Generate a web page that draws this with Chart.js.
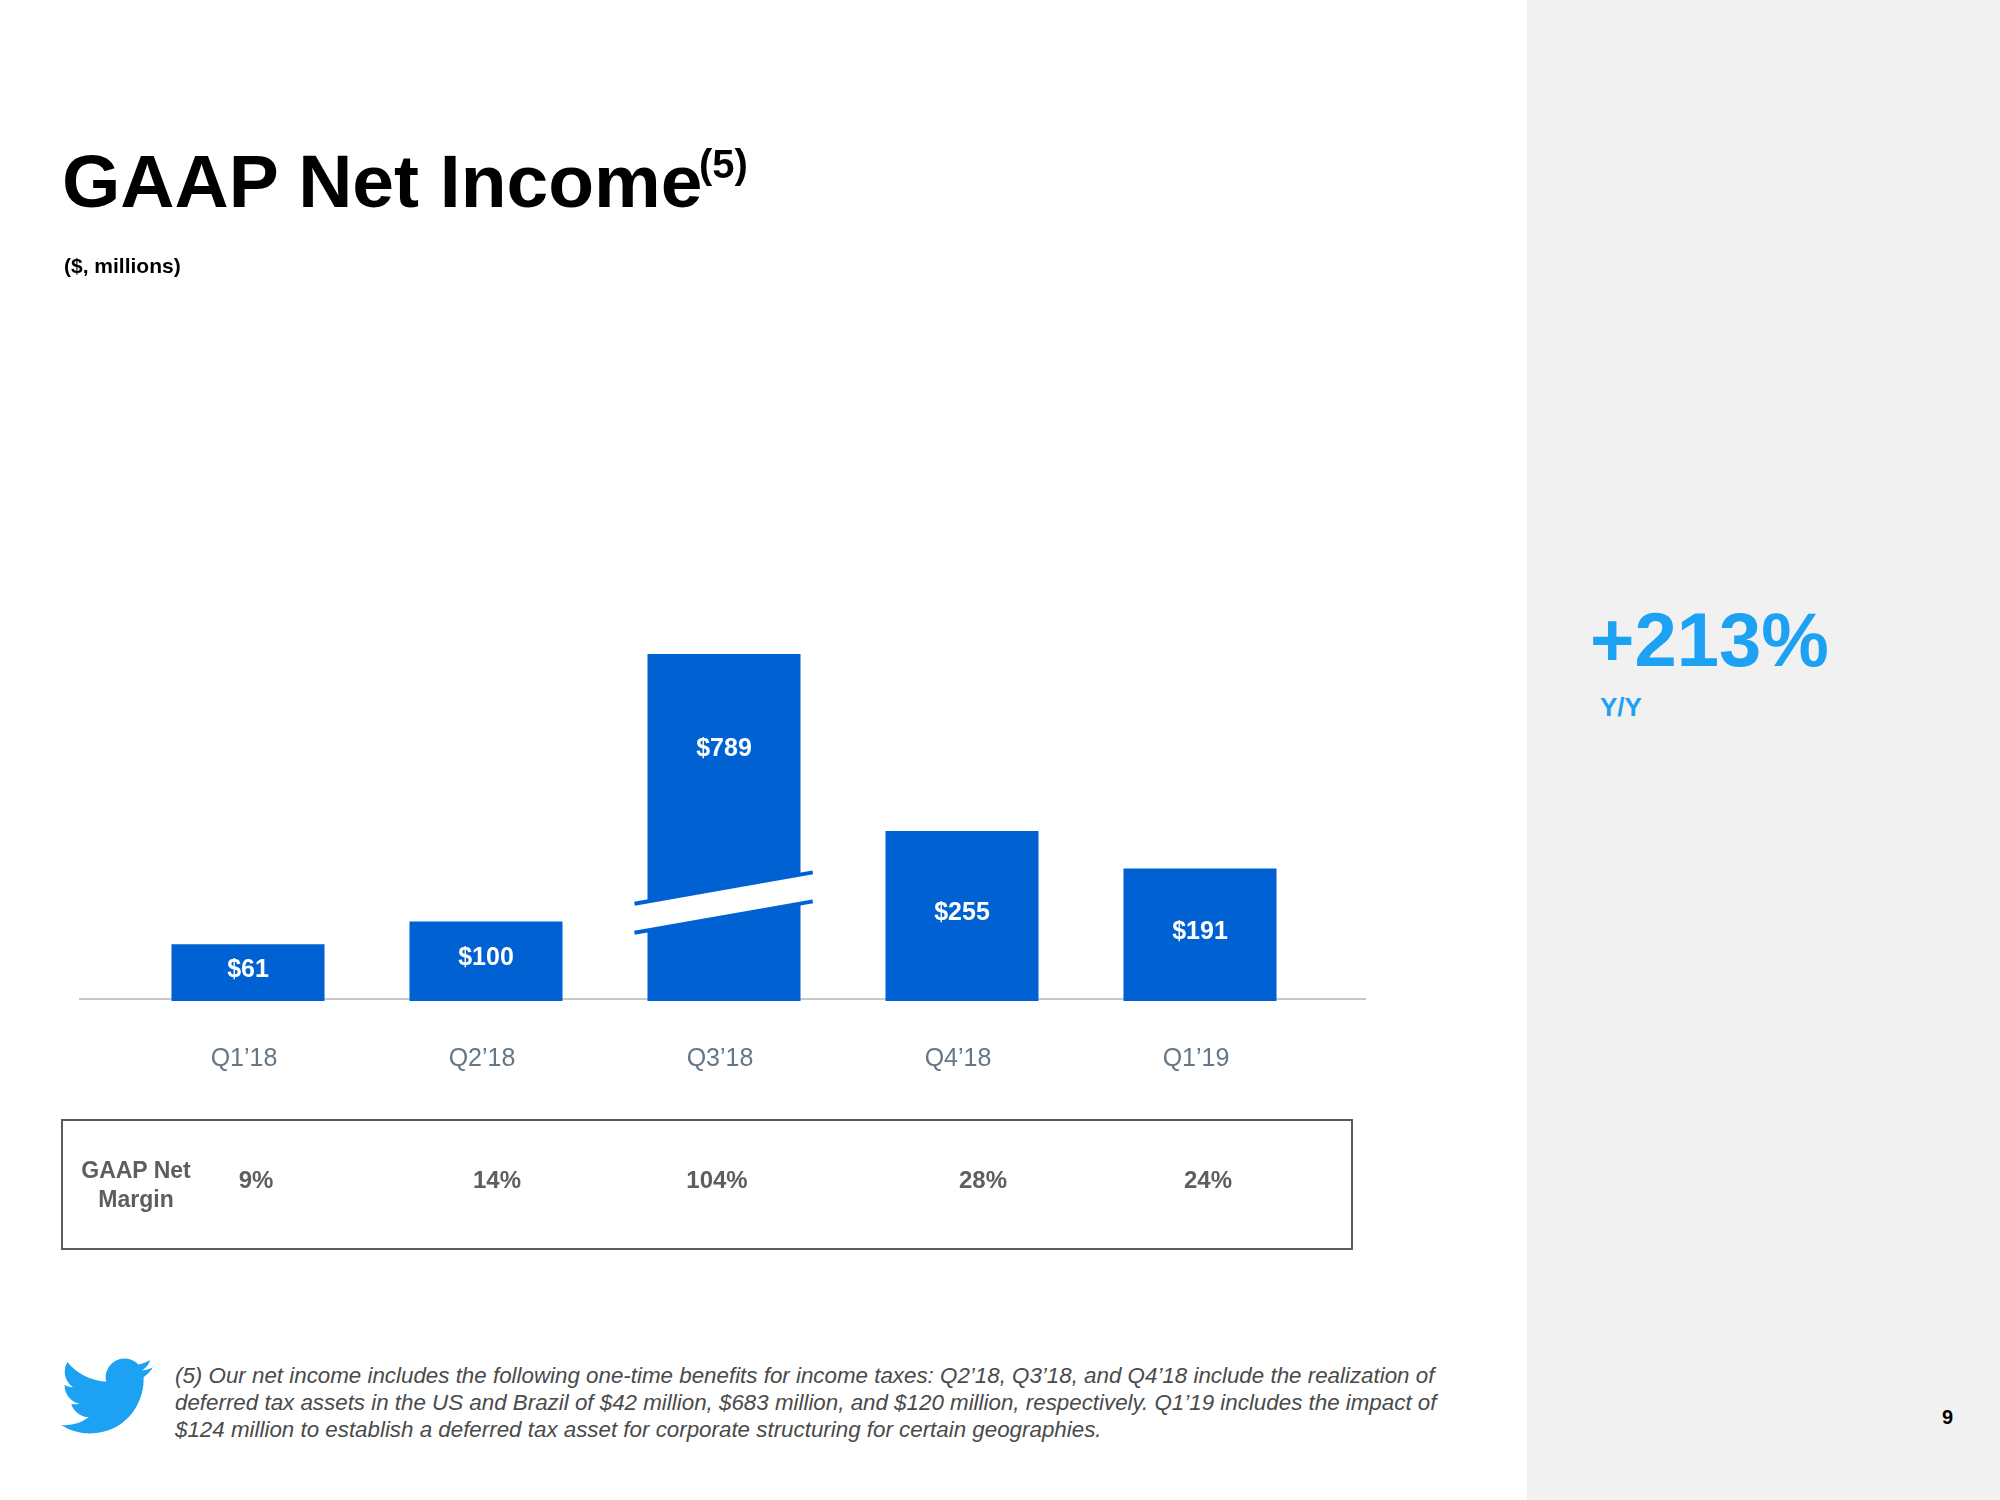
<!DOCTYPE html>
<html><head><meta charset="utf-8">
<script src="https://cdn.jsdelivr.net/npm/chart.js@4.4.0/dist/chart.umd.min.js"></script>
<style>
html,body{margin:0;padding:0;background:#fff;}
body{width:2000px;height:1500px;position:relative;overflow:hidden;font-family:"Liberation Sans",Arial,Helvetica,sans-serif;}
.t{position:absolute;white-space:nowrap;line-height:1;}
#panel{position:absolute;left:1527px;top:0;width:473px;height:1500px;background:#f1f1f1;}
#chartWrap{position:absolute;left:0;top:0;width:1527px;height:1155px;}
#box{position:absolute;left:61px;top:1119px;width:1292px;height:131px;border:2px solid #5a5a5a;box-sizing:border-box;}
.m{position:absolute;font-size:24px;font-weight:bold;color:#5e5e5e;line-height:1;transform:translateX(-50%);white-space:nowrap;}
#foot{position:absolute;left:175px;top:1362px;font-size:20px;line-height:27px;font-style:italic;color:#4a4a4a;white-space:nowrap;}
</style></head><body>
<div id="panel"></div>
<div id="chartWrap"><canvas id="c" width="1527" height="1155"></canvas></div>
<div class="t" style="left:62px;top:144px;font-size:75px;font-weight:bold;color:#000;">GAAP Net Income</div>
<div class="t" style="left:699px;top:144px;font-size:40px;font-weight:bold;color:#000;">(5)</div>
<div class="t" style="left:64px;top:255px;font-size:21px;font-weight:bold;color:#000;">($, millions)</div>
<div class="t" style="left:1590px;top:602px;font-size:76px;font-weight:bold;color:#1da1f2;">+213%</div>
<div class="t" style="left:1600px;top:694px;font-size:26px;font-weight:bold;color:#1da1f2;">Y/Y</div>
<div class="t" style="left:1942px;top:1407px;font-size:20px;font-weight:bold;color:#000;">9</div>
<div id="box"></div>
<div class="m" style="left:136px;font-size:23px;text-align:center;line-height:29px;top:1156px;">GAAP Net<br>Margin</div>
<div id="margins"></div>
<svg style="position:absolute;left:61px;top:1350px;" width="92" height="92" viewBox="0 0 24 24"><path fill="#1da1f2" d="M23.953 4.57a10 10 0 01-2.825.775 4.958 4.958 0 002.163-2.723c-.951.555-2.005.959-3.127 1.184a4.920 4.920 0 00-8.384 4.482C7.690 8.095 4.067 6.130 1.640 3.162a4.822 4.822 0 00-.666 2.475c0 1.710.870 3.213 2.188 4.096a4.904 4.904 0 01-2.228-.616v.06a4.923 4.923 0 003.946 4.827 4.996 4.996 0 01-2.212.085 4.936 4.936 0 004.604 3.417 9.867 9.867 0 01-6.102 2.105c-.39 0-.779-.023-1.170-.067a13.995 13.995 0 007.557 2.209c9.053 0 13.998-7.496 13.998-13.985 0-.21 0-.42-.015-.63A9.935 9.935 0 0024 4.59z"/></svg>
<div id="foot"></div>
<script>
// ---- data ----
const quarters = ['Q1\u201918', 'Q2\u201918', 'Q3\u201918', 'Q4\u201918', 'Q1\u201919'];
const netIncome = [61, 100, 789, 255, 191];
const netIncomeLabels = ['$61', '$100', '$789', '$255', '$191'];
const netMargin = ['9%', '14%', '104%', '28%', '24%'];
const footLines = [
  '(5) Our net income includes the following one-time benefits for income taxes: Q2\u201918, Q3\u201918, and Q4\u201918 include the realization of',
  'deferred tax assets in the US and Brazil of $42 million, $683 million, and $120 million, respectively. Q1\u201919 includes the impact of',
  '$124 million to establish a deferred tax asset for corporate structuring for certain geographies.'
];
// ---- layout ----
const marginX = [256, 497, 717, 983, 1208];
const barColor = '#0061d3';

const mDiv = document.getElementById('margins');
netMargin.forEach((m, i) => {
  const d = document.createElement('div');
  d.className = 'm';
  d.style.left = marginX[i] + 'px';
  d.style.top = '1168px';
  d.textContent = m;
  mDiv.appendChild(d);
});

const foot = document.getElementById('foot');
foot.innerHTML = footLines.map(l => l.replace(/&/g,'&amp;')).join('<br>');
(function(){
  const cv = document.createElement('canvas').getContext('2d');
  cv.font = 'italic 20px "Liberation Sans"';
  const w = cv.measureText(footLines[0]).width;
  foot.style.fontSize = (20 * 1260 / w).toFixed(2) + 'px';
})();

const annot = {
  id: 'annot',
  beforeDatasetsDraw(chart) {
    const {ctx, chartArea: a} = chart;
    ctx.save();
    ctx.strokeStyle = '#c8c8c8';
    ctx.lineWidth = 2;
    ctx.beginPath();
    ctx.moveTo(a.left - 50, a.bottom - 2);
    ctx.lineTo(a.right + 47, a.bottom - 2);
    ctx.stroke();
    ctx.restore();
  },
  afterDatasetsDraw(chart) {
    const {ctx, chartArea: a} = chart;
    const ys = chart.scales.y;
    const meta = chart.getDatasetMeta(0);
    meta.data.forEach((bar, i) => {
      const clipped = netIncome[i] > ys.max;
      const top = Math.max(bar.y, a.top);
      const base = bar.base;
      if (clipped) {
        const cx = bar.x, w = bar.width;
        const x0 = cx - w * 0.585, x1 = cx + w * 0.58;
        const s = -0.176;
        const yU = base - 113, yL = base - 84;
        const f = (x, y0) => y0 + (x - cx) * s;
        ctx.save();
        ctx.fillStyle = '#ffffff';
        ctx.beginPath();
        ctx.moveTo(x0, f(x0, yU)); ctx.lineTo(x1, f(x1, yU));
        ctx.lineTo(x1, f(x1, yL)); ctx.lineTo(x0, f(x0, yL));
        ctx.closePath(); ctx.fill();
        ctx.strokeStyle = barColor; ctx.lineWidth = 4;
        [yU, yL].forEach(y0 => {
          ctx.beginPath(); ctx.moveTo(x0, f(x0, y0)); ctx.lineTo(x1, f(x1, y0)); ctx.stroke();
        });
        ctx.restore();
      }
      const ly = clipped ? a.top + 95 : (top + base) / 2 - 3;
      ctx.save();
      ctx.fillStyle = '#ffffff';
      ctx.font = 'bold 25px "Liberation Sans", Arial, sans-serif';
      ctx.textAlign = 'center';
      ctx.textBaseline = 'middle';
      ctx.fillText(netIncomeLabels[i], bar.x, ly);
      ctx.restore();
    });
  }
};

new Chart(document.getElementById('c'), {
  type: 'bar',
  data: {
    labels: quarters,
    datasets: [{
      data: netIncome,
      backgroundColor: barColor,
      borderWidth: 0,
      base: -36,
      clip: 0,
      categoryPercentage: 1,
      barPercentage: 0.643
    }]
  },
  options: {
    responsive: false,
    animation: false,
    devicePixelRatio: 1,
    layout: {padding: {left: 129, right: 208, top: 654, bottom: 38}},
    plugins: {legend: {display: false}, tooltip: {enabled: false}},
    scales: {
      x: {
        grid: {display: false, drawTicks: false},
        border: {display: false},
        ticks: {color: '#657786', padding: 43, labelOffset: -4, font: {family: '"Liberation Sans", Arial, sans-serif', size: 25}}
      },
      y: {display: false, min: -36, max: 558}
    }
  },
  plugins: [annot]
});
</script>
</body></html>
